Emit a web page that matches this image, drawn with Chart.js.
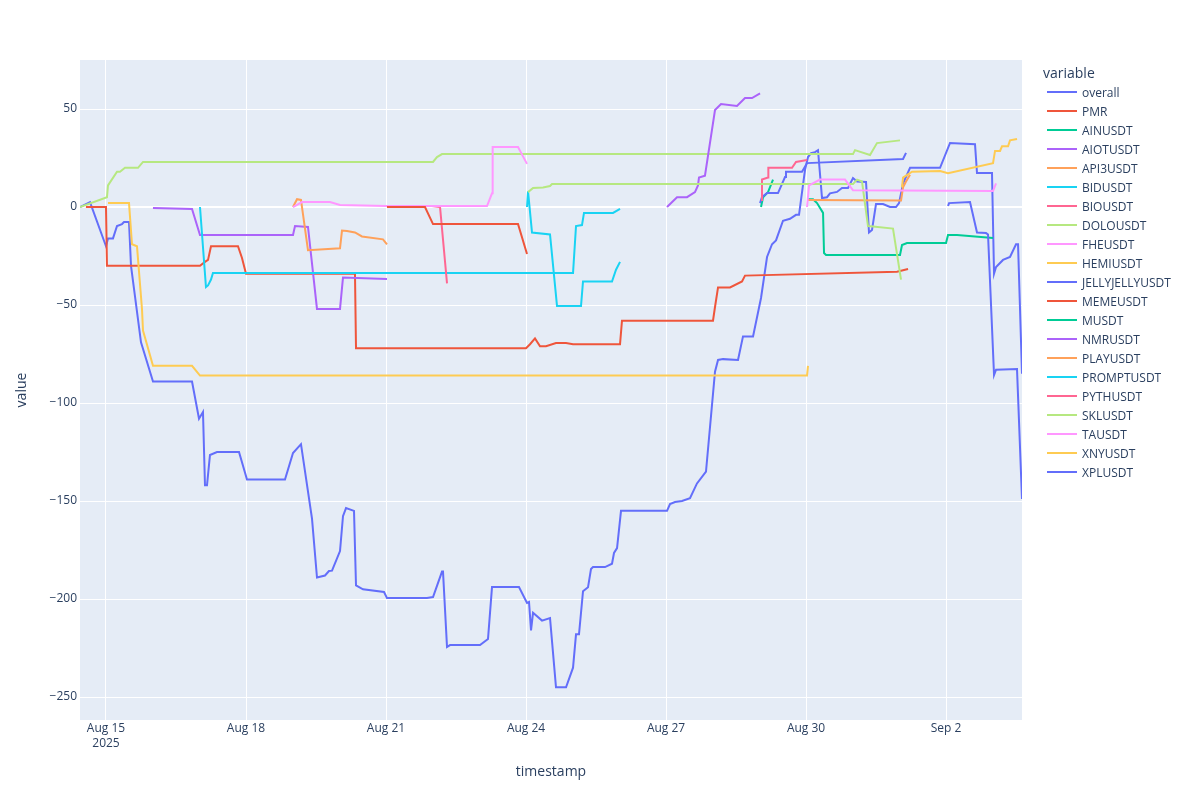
<!DOCTYPE html>
<html>
<head>
<meta charset="utf-8">
<script src="https://cdn.jsdelivr.net/npm/chart.js@4.4.1/dist/chart.umd.min.js"></script>
<style>
	body { margin: 0; background: #fff; }
	#wrap { position: relative; width: 1200px; height: 800px; }
	#legend { position: absolute; left: 0; top: 0; font-family: "Open Sans", verdana, arial, sans-serif; color: #2a3f5f; }
	.ltitle { position: absolute; left: 1043px; top: 63px; font-size: 14px; line-height: 20px; white-space: nowrap; }
	.lrow { position: absolute; left: 1047px; height: 19px; font-size: 12px; line-height: 19px; white-space: nowrap; }
	.lrow .swatch { position: absolute; left: 0; top: 8px; width: 30px; height: 2px; }
	.lrow .txt { position: absolute; left: 35px; top: 0; }
</style>
</head>
<body>
<div id="wrap">
	<canvas id="chart" width="1200" height="800"></canvas>
	<div id="legend"></div>
</div>
<script>
// x values are days since 2025-08-15 00:00
var xTickDays = [0, 3, 6, 9, 12, 15, 18];
var xTickLabels = [['Aug 15', '2025'], 'Aug 18', 'Aug 21', 'Aug 24', 'Aug 27', 'Aug 30', 'Sep 2'];
var yTicks = [-250, -200, -150, -100, -50, 0, 50];

var overall = [[-0.557, 0], [-0.343, 2.5], [0, -20], [0.043, -16], [0.15, -16], [0.236, -9.7], [0.343, -8.7], [0.386, -7.7], [0.493, -7.7], [0.536, -30], [0.75, -69], [1.007, -89], [1.843, -89], [1.993, -108], [2.078, -104.6], [2.121, -142], [2.164, -142], [2.228, -126.5], [2.378, -125], [2.85, -125], [3.021, -139], [3.835, -139], [4.007, -125.5], [4.178, -121], [4.414, -159], [4.521, -189], [4.693, -188], [4.778, -185.7], [4.843, -185.5], [5.014, -175.5], [5.078, -157.7], [5.143, -153.6], [5.314, -155], [5.357, -193], [5.507, -195], [5.957, -196.4], [6.021, -199.5], [6.878, -199.5], [7.007, -199], [7.2, -186], [7.221, -186], [7.307, -224.5], [7.371, -223.5], [8.014, -223.5], [8.185, -220.4], [8.271, -193.9], [8.849, -193.9], [9.021, -202], [9.064, -201.5], [9.107, -216], [9.15, -207], [9.342, -211], [9.514, -209.7], [9.642, -245], [9.857, -245], [10.007, -235], [10.071, -218], [10.135, -218], [10.221, -196], [10.328, -194], [10.392, -184.7], [10.435, -183.7], [10.692, -183.7], [10.842, -182], [10.885, -176.5], [10.95, -174], [11.035, -155], [12.021, -155], [12.085, -151.5], [12.192, -150.5], [12.342, -150], [12.513, -148.5], [12.663, -141], [12.856, -135], [13.049, -84], [13.114, -78], [13.221, -77.6], [13.542, -78], [13.649, -66], [13.864, -66], [14.035, -46.4], [14.164, -25.5], [14.271, -19], [14.356, -17], [14.506, -7], [14.656, -6], [14.785, -4], [14.849, -4], [14.978, 19], [15.042, 25.5], [15.107, 27.5], [15.192, 28], [15.256, 29], [15.342, 4.6], [15.449, 5], [15.513, 7], [15.663, 7.7], [15.77, 9.7], [15.899, 9.7], [16.006, 14.8], [16.092, 13], [16.285, 12.8], [16.349, -13], [16.413, -11.7], [16.499, 1.5], [16.649, 1.5], [16.799, 0], [16.927, 0], [16.992, 2], [17.078, 12], [17.228, 20], [17.871, 20], [18.085, 32.7], [18.62, 32], [18.663, 17.3], [18.984, 17.3], [19.028, -34], [19.071, -30.6], [19.22, -27], [19.37, -25.5], [19.499, -19], [19.542, -19], [19.627, -85]];
var PMR = [[-0.43, 0], [0, 0], [0.021, -30], [2.014, -30], [2.121, -28], [2.186, -27], [2.25, -20], [2.828, -20], [2.914, -26], [3.0, -34], [5.335, -34], [5.357, -72], [9.0, -72], [9.085, -70], [9.192, -67], [9.3, -71], [9.428, -71], [9.642, -69.4], [9.857, -69.4], [10.007, -70], [11.014, -70], [11.056, -58], [13.006, -58], [13.049, -51], [13.114, -41], [13.371, -41], [13.628, -38], [13.692, -35], [16.949, -33], [17.185, -31.6]];
var AINUSDT = [[14.035, 0], [14.078, 5], [14.185, 7.6], [14.292, 14]];
var AIOTUSDT = [[1.007, -0.5], [1.843, -1], [2.014, -14.3], [4.007, -14.3], [4.05, -9.7], [4.328, -10.2], [4.521, -52], [5.014, -52], [5.078, -36], [6.021, -36.7]];
var API3USDT = [[4.007, 0], [4.093, 4], [4.178, 3.6], [4.328, -22], [5.014, -21], [5.057, -12], [5.164, -12.2], [5.335, -13], [5.485, -15], [5.935, -16.5], [6.021, -19]];
var BIDUSDT = [[2.014, 0], [2.142, -40.8], [2.186, -40], [2.25, -37], [2.292, -33.7], [10.007, -33.7], [10.071, -9.7], [10.199, -9.2], [10.242, -3], [10.864, -3], [11.014, -1]];
var BIOUSDT = [[6.985, 0.5], [7.157, 0], [7.307, -39]];
var DOLOUSDT = [[-0.557, 0], [0.021, 5], [0.043, 11], [0.236, 18], [0.3, 18], [0.407, 20], [0.686, 20], [0.793, 23], [7.007, 23], [7.092, 25.5], [7.2, 27], [16.006, 27], [16.049, 29], [16.37, 26.5], [16.52, 32.6], [17.013, 34]];
var FHEUSDT = [[4.007, 0], [4.2, 2.5], [4.8, 2.5], [5.014, 1], [6.0, 0.5], [8.164, 0.5], [8.271, 7], [8.285, 30.6], [8.828, 30.6], [9.021, 22]];
var HEMIUSDT = [[0.043, 2], [0.493, 2], [0.557, -19], [0.664, -20], [0.771, -52], [0.793, -63], [1.007, -81], [1.843, -81], [2.014, -86], [15.021, -86], [15.042, -81]];
var JELLYJELLYUSDT = [[14.014, 2], [14.056, 5], [14.164, 7.1], [14.399, 7.1], [14.549, 15.3], [14.57, 18], [14.913, 18], [15.021, 22.4], [17.078, 24.5], [17.142, 27.6]];
var MEMEUSDT = [[6.021, 0], [6.835, 0], [7.007, -8.7], [8.828, -8.7], [9.021, -24]];
var MUSDT = [[15.042, 4], [15.149, 4], [15.235, 2], [15.364, -3], [15.385, -23.5], [15.428, -24.5], [17.013, -24.5], [17.056, -19.4], [17.163, -18.4], [17.999, -18.4], [18.042, -14.3], [18.235, -14.3], [19.006, -15.8]];
var NMRUSDT = [[12.021, 0], [12.235, 5], [12.449, 5], [12.62, 7.6], [12.684, 11], [12.706, 15], [12.834, 16], [13.049, 49.5], [13.178, 52.5], [13.52, 51.5], [13.692, 55.6], [13.842, 55.6], [14.014, 58]];
var PLAYUSDT = [[15.042, 3.6], [17.035, 3.3], [17.078, 10], [17.142, 13], [17.228, 16.5]];
var PROMPTUSDT = [[9.021, 0], [9.043, 8], [9.128, -13], [9.514, -14], [9.664, -50.5], [10.178, -50.5], [10.221, -38], [10.842, -38], [10.928, -32], [11.014, -28]];
var PYTHUSDT = [[14.035, 3.6], [14.056, 14], [14.185, 15], [14.192, 20], [14.699, 20], [14.785, 23], [15.021, 24]];
var SKLUSDT = [[9.043, 7.6], [9.15, 9.7], [9.364, 10], [9.514, 10.7], [9.557, 11.7], [16.006, 11.7], [16.092, 14], [16.199, 13], [16.327, -9.7], [16.434, -10], [16.863, -11], [17.035, -37]];
var TAUSDT = [[15.021, 0], [15.064, 11], [15.299, 14], [15.835, 14], [16.006, 8.5], [19.006, 8.2], [19.071, 12]];
var XNYUSDT = [[17.056, 10], [17.078, 15], [17.271, 18], [17.871, 18.4], [18.042, 17.3], [19.006, 22.4], [19.049, 28.6], [19.156, 28.6], [19.199, 31], [19.328, 31], [19.37, 34], [19.52, 34.7]];
var XPLUSDT = [[18.042, 0.5], [18.064, 2], [18.513, 2.5], [18.663, -13], [18.856, -13.3], [18.899, -14], [19.028, -85.7], [19.071, -83], [19.52, -82.7], [19.627, -149]];

var seriesNames = ['overall', 'PMR', 'AINUSDT', 'AIOTUSDT', 'API3USDT', 'BIDUSDT', 'BIOUSDT', 'DOLOUSDT', 'FHEUSDT', 'HEMIUSDT', 'JELLYJELLYUSDT', 'MEMEUSDT', 'MUSDT', 'NMRUSDT', 'PLAYUSDT', 'PROMPTUSDT', 'PYTHUSDT', 'SKLUSDT', 'TAUSDT', 'XNYUSDT', 'XPLUSDT'];
var seriesData = [overall, PMR, AINUSDT, AIOTUSDT, API3USDT, BIDUSDT, BIOUSDT, DOLOUSDT, FHEUSDT, HEMIUSDT, JELLYJELLYUSDT, MEMEUSDT, MUSDT, NMRUSDT, PLAYUSDT, PROMPTUSDT, PYTHUSDT, SKLUSDT, TAUSDT, XNYUSDT, XPLUSDT];
var palette = ['#636efa', '#EF553B', '#00cc96', '#ab63fa', '#FFA15A', '#19d3f3', '#FF6692', '#B6E880', '#FF97FF', '#FECB52'];

var plotBg = {
	id: 'plotBg',
	beforeDraw: function (chart) {
		var a = chart.chartArea;
		var ctx = chart.ctx;
		ctx.save();
		ctx.fillStyle = '#E5ECF6';
		ctx.fillRect(a.left, a.top, a.right - a.left, a.bottom - a.top);
		ctx.restore();
	}
};

function draw() {
	Chart.defaults.font.family = '"Open Sans", verdana, arial, sans-serif';
	Chart.defaults.color = '#2a3f5f';

	var datasets = seriesNames.map(function (name, i) {
		return {
			label: name,
			data: seriesData[i].map(function (p) { return { x: p[0], y: p[1] }; }),
			borderColor: palette[i % palette.length],
			backgroundColor: palette[i % palette.length],
			borderWidth: 2,
			pointRadius: 0,
			tension: 0,
			fill: false,
			order: seriesNames.length - i
		};
	});

	var ctx = document.getElementById('chart').getContext('2d');
	var myChart = new Chart(ctx, {
		type: 'line',
		data: { datasets: datasets },
		plugins: [plotBg],
		options: {
			responsive: false,
			animation: false,
			devicePixelRatio: 1,
			layout: { padding: { left: 0, right: 178, top: 60, bottom: 0 } },
			plugins: {
				legend: { display: false },
				tooltip: { enabled: false }
			},
			scales: {
				x: {
					type: 'linear',
					min: -0.557,
					max: 19.627,
					afterBuildTicks: function (scale) {
						scale.ticks = xTickDays.map(function (v) { return { value: v }; });
					},
					afterFit: function (scale) { scale.height = 80; },
					ticks: {
						autoSkip: false,
						maxRotation: 0,
						padding: 1,
						font: { size: 12, lineHeight: 1.25 },
						callback: function (v, i) { return xTickLabels[i]; }
					},
					grid: { color: '#ffffff', lineWidth: 1, drawTicks: false },
					border: { display: false },
					title: {
						display: true,
						text: 'timestamp',
						font: { size: 14 },
						padding: { top: 0, bottom: 20 }
					}
				},
				y: {
					type: 'linear',
					min: -261.7,
					max: 75,
					afterBuildTicks: function (scale) {
						scale.ticks = yTicks.map(function (v) { return { value: v }; });
					},
					afterFit: function (scale) { scale.width = 80; },
					ticks: {
						padding: 3,
						font: { size: 12 },
						callback: function (v) { return v < 0 ? '\u2212' + Math.abs(v) : String(v); }
					},
					grid: {
						color: '#ffffff',
						lineWidth: function (c) { return c.tick && c.tick.value === 0 ? 2 : 1; },
						drawTicks: false
					},
					border: { display: false },
					title: {
						display: true,
						text: 'value',
						font: { size: 14 },
						padding: { top: 14, bottom: 0 }
					}
				}
			}
		}
	});

	var legend = document.getElementById('legend');
	var title = document.createElement('div');
	title.className = 'ltitle';
	title.textContent = 'variable';
	legend.appendChild(title);
	seriesNames.forEach(function (name, i) {
		var row = document.createElement('div');
		row.className = 'lrow';
		row.style.top = (83 + 19 * i) + 'px';
		var sw = document.createElement('div');
		sw.className = 'swatch';
		sw.style.background = palette[i % palette.length];
		var txt = document.createElement('div');
		txt.className = 'txt';
		txt.textContent = name;
		row.appendChild(sw);
		row.appendChild(txt);
		legend.appendChild(row);
	});
}

window.onload = function () {
	draw();
};
</script>
</body>
</html>
